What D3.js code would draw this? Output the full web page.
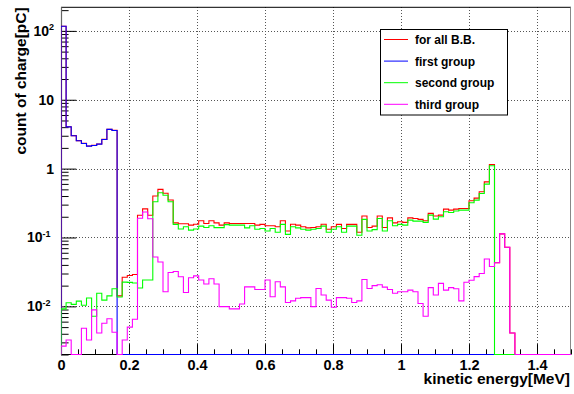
<!DOCTYPE html>
<html>
<head>
<meta charset="utf-8">
<script src="https://cdn.jsdelivr.net/npm/d3@7"></script>
<style>
  html, body { margin: 0; padding: 0; background: #fff; }
  svg { display: block; }
  text { font-family: "Liberation Sans", Arial, Helvetica, sans-serif; font-weight: bold; fill: #000; }
</style>
</head>
<body>
<svg id="chart" width="574" height="394"></svg>
<script>
// Histogram binning (MeV)
const binWidth = 0.015;
const nBins = 100;

// Charge per energy bin [pC]
const allBB = [
  117, 4.05, 3.01, 2.55, 2.33, 2.13, 2.18, 2.28, 2.66, 3.72,
  3.59, 0.0142, 0.0265, 0.028, 0.029, 0.21, 0.26, 0.21, 0.40, 0.50,
  0.44, 0.35, 0.163, 0.158, 0.158, 0.151, 0.156, 0.175, 0.160, 0.175,
  0.163, 0.151, 0.163, 0.160, 0.160, 0.160, 0.160, 0.160, 0.151, 0.155,
  0.148, 0.148, 0.143, 0.175, 0.124, 0.156, 0.151, 0.143, 0.138, 0.140,
  0.143, 0.156, 0.132, 0.143, 0.155, 0.135, 0.155, 0.155, 0.119, 0.205,
  0.140, 0.146, 0.205, 0.140, 0.193, 0.163, 0.169, 0.166, 0.193, 0.189,
  0.183, 0.175, 0.224, 0.205, 0.211, 0.258, 0.250, 0.258, 0.264, 0.264,
  0.341, 0.373, 0.461, 0.643, 1.15, 0.043, 0.113, 0.072, 0.0041, 0,
  0, 0, 0, 0, 0, 0, 0, 0, 0, 0
];
const firstGroup = [
  117, 4.04, 3.0, 2.54, 2.32, 2.12, 2.17, 2.27, 2.65, 3.71,
  3.58, 0, 0, 0, 0, 0, 0, 0, 0, 0,
  0, 0, 0, 0, 0, 0, 0, 0, 0, 0,
  0, 0, 0, 0, 0, 0, 0, 0, 0, 0,
  0, 0, 0, 0, 0, 0, 0, 0, 0, 0,
  0, 0, 0, 0, 0, 0, 0, 0, 0, 0,
  0, 0, 0, 0, 0, 0, 0, 0, 0, 0,
  0, 0, 0, 0, 0, 0, 0, 0, 0, 0,
  0, 0, 0, 0, 0, 0, 0, 0, 0, 0,
  0, 0, 0, 0, 0, 0, 0, 0, 0, 0
];
const secondGroup = [
  0.0092, 0.0113, 0.0107, 0.0119, 0.0104, 0.0132, 0.0072, 0.0155, 0.0123, 0.0142,
  0.0180, 0.0137, 0.0225, 0.0223, 0.0218, 0.0185, 0.0241, 0.0241, 0.33, 0.446,
  0.41, 0.33, 0.155, 0.133, 0.143, 0.128, 0.133, 0.146, 0.140, 0.148,
  0.139, 0.139, 0.154, 0.151, 0.151, 0.151, 0.138, 0.148, 0.132, 0.135,
  0.124, 0.135, 0.119, 0.155, 0.111, 0.143, 0.138, 0.132, 0.128, 0.132,
  0.135, 0.146, 0.119, 0.132, 0.143, 0.119, 0.146, 0.146, 0.108, 0.183,
  0.124, 0.130, 0.189, 0.124, 0.175, 0.148, 0.155, 0.151, 0.179, 0.173,
  0.173, 0.166, 0.211, 0.185, 0.200, 0.236, 0.231, 0.242, 0.250, 0.250,
  0.319, 0.349, 0.436, 0.595, 1.10, 0, 0, 0, 0, 0,
  0, 0, 0, 0, 0, 0, 0, 0, 0, 0
];
const thirdGroup = [
  0.00265, 0.00325, 0, 0, 0.0048, 0.00325, 0.0089, 0.0041, 0.0057, 0.0066,
  0.0042, 0, 0.00325, 0.0050, 0.0065, 0.19, 0.235, 0.187, 0.052, 0.044,
  0.0163, 0.031, 0.032, 0.0269, 0.0159, 0.026, 0.0277, 0.0241, 0.0211, 0.0252,
  0.0211, 0.0099, 0.0099, 0.0092, 0.0092, 0.0108, 0.0192, 0.0192, 0.0176, 0.0176,
  0.0241, 0.0138, 0.0228, 0.0192, 0.0114, 0.0120, 0.0131, 0.0134, 0.0134, 0.0099,
  0.0182, 0.0146, 0.0123, 0.0097, 0.0134, 0.0134, 0.0131, 0.0114, 0.0120, 0.0246,
  0.0182, 0.0200, 0.0206, 0.0190, 0.0176, 0.0155, 0.0163, 0.0163, 0.0172, 0.0163,
  0.0110, 0.0072, 0.0187, 0.0146, 0.0216, 0.0172, 0.0187, 0.0180, 0.0120, 0.0224,
  0.024, 0.027, 0.030, 0.0486, 0.038, 0.043, 0.113, 0.072, 0.0041, 0,
  0, 0, 0, 0, 0, 0, 0, 0, 0, 0
];

const seriesNames = ["for all B.B.", "first group", "second group", "third group"];
const seriesColors = ["#ff0000", "#0000ff", "#00ff00", "#ff00ff"];
const seriesData = [allBB, firstGroup, secondGroup, thirdGroup];

const xTickValues = [0, 0.2, 0.4, 0.6, 0.8, 1.0, 1.2, 1.4];
const xTickLabels = ["0", "0.2", "0.4", "0.6", "0.8", "1", "1.2", "1.4"];
const yTickValues = [0.01, 0.1, 1, 10, 100];
const yTickLabels = [["10", "-2"], ["10", "-1"], ["1", ""], ["10", ""], ["10", "2"]];

const xTitle = "kinetic energy[MeV]";
const yTitle = "count of charge[pC]";

// ---- frame & scales ----
const frame = { left: 61, right: 571, top: 7.3, bottom: 354.5 };
const xDomain = [0, 1.5];
const yDomain = [0.002, 220];

const svg = d3.select("#chart");
const x = d3.scaleLinear().domain(xDomain).range([frame.left, frame.right]);
const y = d3.scaleLog().domain(yDomain).range([frame.bottom, frame.top]);

svg.append("defs").append("clipPath").attr("id", "plotClip")
  .append("rect")
  .attr("x", frame.left).attr("y", frame.top - 1)
  .attr("width", frame.right - frame.left).attr("height", frame.bottom - frame.top + 1.5);

// ---- grid ----
const grid = svg.append("g").attr("stroke", "#555").attr("stroke-width", 1)
  .attr("stroke-dasharray", "1,2").attr("shape-rendering", "crispEdges");
grid.selectAll("line.gx").data(xTickValues.filter(v => v > 0))
  .join("line").attr("class", "gx")
  .attr("x1", d => Math.round(x(d)) + 0.5).attr("x2", d => Math.round(x(d)) + 0.5)
  .attr("y1", frame.top).attr("y2", frame.bottom);
grid.selectAll("line.gy").data(yTickValues)
  .join("line").attr("class", "gy")
  .attr("y1", d => Math.round(y(d)) + 0.5).attr("y2", d => Math.round(y(d)) + 0.5)
  .attr("x1", frame.left).attr("x2", frame.right);

// ---- frame lines ----
svg.append("line").attr("x1", frame.left).attr("x2", frame.right)
  .attr("y1", frame.top).attr("y2", frame.top).attr("stroke", "#000").attr("stroke-width", 1);
svg.append("line").attr("x1", frame.right - 0.5).attr("x2", frame.right - 0.5)
  .attr("y1", frame.top).attr("y2", frame.bottom).attr("stroke", "#888").attr("stroke-width", 1);

// ---- axes ----
const xMinor = d3.range(0, 1.5001, 0.05).filter(v => Math.abs(v / 0.2 - Math.round(v / 0.2)) > 1e-6);
const yMinor = [];
for (let e = -3; e <= 2; e++) {
  for (let m = 2; m <= 9; m++) {
    const v = m * Math.pow(10, e);
    if (v >= yDomain[0] && v <= yDomain[1]) yMinor.push(v);
  }
}

const xAxisG = svg.append("g").attr("transform", `translate(0,${frame.bottom})`);
xAxisG.call(d3.axisBottom(x).tickValues(xTickValues).tickSize(-10.4)
  .tickFormat((d, i) => xTickLabels[i]));
xAxisG.append("g").call(d3.axisBottom(x).tickValues(xMinor).tickSize(-5.2).tickFormat(""));
xAxisG.selectAll(".domain").remove();
xAxisG.selectAll("line").attr("stroke", "#000");
xAxisG.selectAll("text").attr("y", 15.5).attr("dy", null)
  .style("font-size", "14.5px").style("font-family", null);

const yAxisG = svg.append("g").attr("transform", `translate(${frame.left},0)`);
yAxisG.call(d3.axisLeft(y).tickValues(yTickValues).tickSize(-15.3).tickFormat(""));
yAxisG.append("g").call(d3.axisLeft(y).tickValues(yMinor).tickSize(-7.6).tickFormat(""));
yAxisG.selectAll(".domain").remove();
yAxisG.selectAll("line").attr("stroke", "#000");

// decade labels with exponent
const yLab = svg.append("g").attr("text-anchor", "end");
yTickValues.forEach((v, i) => {
  const [base, exp] = yTickLabels[i];
  const t = yLab.append("text")
    .attr("x", exp.startsWith("-") ? 50.5 : 54)
    .attr("y", y(v) + 5)
    .style("font-size", "14px");
  t.append("tspan").text(base);
  if (exp) {
    t.append("tspan").attr("dy", -5.5).style("font-size", "9px").text(exp);
  }
});

// axis lines
svg.append("line").attr("x1", frame.left + 0.5).attr("x2", frame.left + 0.5)
  .attr("y1", frame.top).attr("y2", frame.bottom + 0.5).attr("stroke", "#666").attr("stroke-width", 1.2);
svg.append("line").attr("x1", frame.left).attr("x2", frame.right)
  .attr("y1", frame.bottom).attr("y2", frame.bottom).attr("stroke", "#000").attr("stroke-width", 1);

// ---- histograms ----
const yFloor = yDomain[0];
const step = d3.line()
  .x(d => x(d.e))
  .y(d => d.v > yFloor ? y(d.v) : y(yFloor))
  .curve(d3.curveStepAfter);

const plot = svg.append("g").attr("clip-path", "url(#plotClip)");
seriesData.forEach((vals, s) => {
  const pts = [{ e: 0, v: 0 }];
  vals.forEach((v, i) => pts.push({ e: i * binWidth, v }));
  pts.push({ e: nBins * binWidth, v: vals[nBins - 1] });
  pts.push({ e: nBins * binWidth, v: 0 });
  plot.append("path")
    .attr("d", step(pts))
    .attr("fill", "none")
    .attr("stroke", seriesColors[s])
    .attr("stroke-width", 1.1);
});

// ---- titles ----
svg.append("text")
  .attr("x", frame.right - 1).attr("y", 383.5)
  .attr("text-anchor", "end")
  .style("font-size", "15.5px")
  .text(xTitle);
svg.append("text")
  .attr("transform", `translate(25.5,${frame.top}) rotate(-90)`)
  .attr("text-anchor", "end")
  .style("font-size", "15.5px")
  .text(yTitle);

// ---- legend ----
const lg = svg.append("g");
lg.append("rect")
  .attr("x", 380.5).attr("y", 29.5).attr("width", 127).attr("height", 85.5)
  .attr("fill", "#fff").attr("stroke", "#000").attr("stroke-width", 1);
seriesNames.forEach((name, i) => {
  const cy = 39.5 + i * 21.6;
  lg.append("line").attr("x1", 384).attr("x2", 408)
    .attr("y1", cy).attr("y2", cy)
    .attr("stroke", seriesColors[i]).attr("stroke-width", 1);
  lg.append("text").attr("x", 415).attr("y", cy + 4.5)
    .style("font-size", "12px").text(name);
});
</script>
</body>
</html>
